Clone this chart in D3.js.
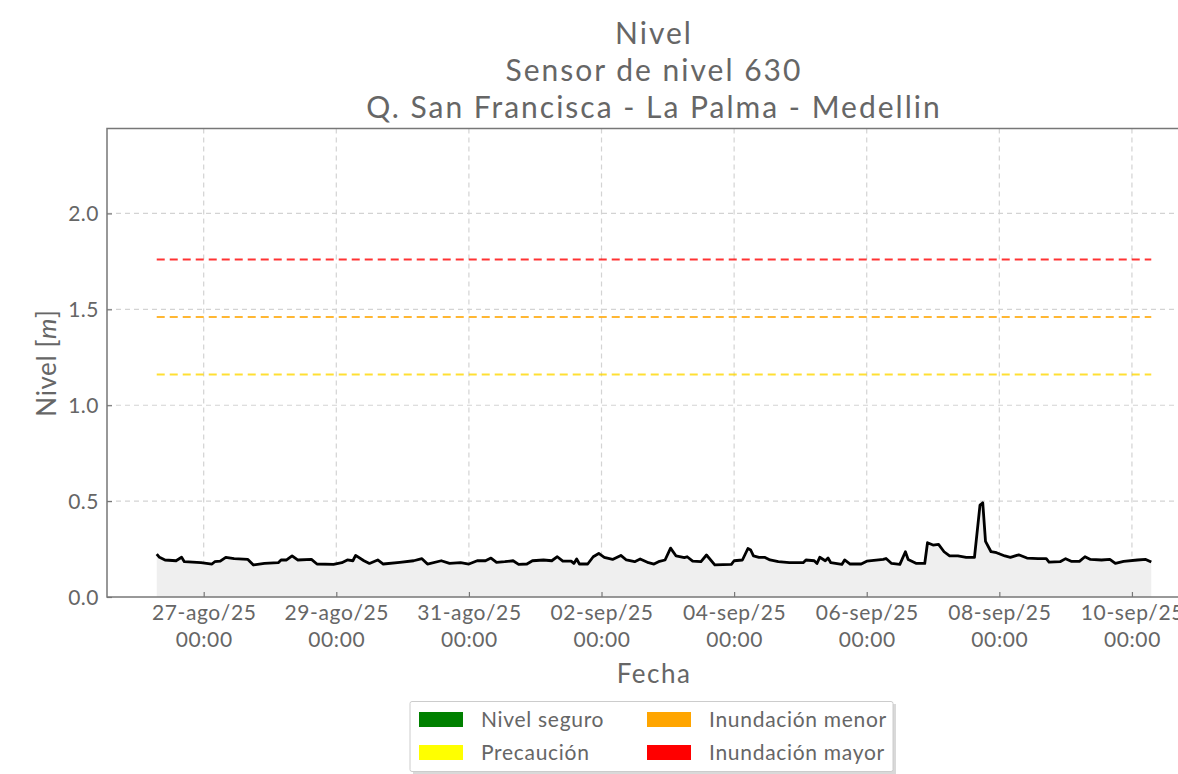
<!DOCTYPE html>
<html><head><meta charset="utf-8">
<script src="https://cdn.jsdelivr.net/npm/d3@7"></script>
<style>
html,body{margin:0;padding:0;background:#fff;overflow:hidden;}
svg text{font-family:Lato,"Open Sans",sans-serif;fill:#666;}
</style></head>
<body><svg id="chart" width="1178" height="774"></svg>
<script>
// ---------- data ----------
const titleLines = ["Nivel", "Sensor de nivel 630", "Q. San Francisca - La Palma - Medellin"];
const xLabel = "Fecha";
const yLabel = "Nivel [";
const yLabelItalic = "m";
const yLabelEnd = "]";

const times = [
"2025-08-26 07:00","2025-08-26 08:00","2025-08-26 10:00","2025-08-26 14:00","2025-08-26 16:00","2025-08-26 17:00","2025-08-26 23:00",
"2025-08-27 03:00","2025-08-27 04:00","2025-08-27 06:00","2025-08-27 08:00","2025-08-27 11:00","2025-08-27 16:00","2025-08-27 18:00","2025-08-27 22:00",
"2025-08-28 03:00","2025-08-28 04:00","2025-08-28 06:00","2025-08-28 08:00","2025-08-28 10:00","2025-08-28 15:00","2025-08-28 17:00","2025-08-28 23:00",
"2025-08-29 02:00","2025-08-29 04:00","2025-08-29 06:00","2025-08-29 07:00","2025-08-29 10:00","2025-08-29 12:00","2025-08-29 15:00","2025-08-29 17:00","2025-08-29 23:00",
"2025-08-30 04:00","2025-08-30 07:00","2025-08-30 09:00","2025-08-30 14:00","2025-08-30 17:00","2025-08-30 21:00",
"2025-08-31 00:00","2025-08-31 03:00","2025-08-31 06:00","2025-08-31 08:00","2025-08-31 10:00","2025-08-31 13:00","2025-08-31 16:00","2025-08-31 18:00","2025-08-31 21:00","2025-08-31 23:00",
"2025-09-01 03:00","2025-09-01 06:00","2025-09-01 08:00","2025-09-01 10:00","2025-09-01 13:00","2025-09-01 14:00","2025-09-01 15:00","2025-09-01 16:00","2025-09-01 19:00","2025-09-01 21:00","2025-09-01 23:00",
"2025-09-02 01:00","2025-09-02 04:00","2025-09-02 07:00","2025-09-02 09:00","2025-09-02 12:00","2025-09-02 14:00","2025-09-02 17:00","2025-09-02 19:00","2025-09-02 21:00","2025-09-02 23:00",
"2025-09-03 01:00","2025-09-03 03:00","2025-09-03 06:00","2025-09-03 07:00","2025-09-03 09:00","2025-09-03 12:00","2025-09-03 14:00","2025-09-03 17:00","2025-09-03 23:00",
"2025-09-04 00:00","2025-09-04 03:00","2025-09-04 05:00","2025-09-04 06:00","2025-09-04 07:00","2025-09-04 09:00","2025-09-04 11:00","2025-09-04 13:00","2025-09-04 16:00","2025-09-04 20:00",
"2025-09-05 01:00","2025-09-05 02:00","2025-09-05 05:00","2025-09-05 06:00","2025-09-05 07:00","2025-09-05 09:00","2025-09-05 10:00","2025-09-05 11:00","2025-09-05 15:00","2025-09-05 16:00","2025-09-05 18:00","2025-09-05 22:00",
"2025-09-06 00:00","2025-09-06 06:00","2025-09-06 07:00","2025-09-06 09:00","2025-09-06 12:00","2025-09-06 14:00","2025-09-06 15:00","2025-09-06 18:00","2025-09-06 21:00","2025-09-06 22:00",
"2025-09-07 00:00","2025-09-07 02:00","2025-09-07 04:00","2025-09-07 06:00","2025-09-07 09:00","2025-09-07 12:00","2025-09-07 15:00","2025-09-07 17:00","2025-09-07 18:00","2025-09-07 19:00","2025-09-07 21:00","2025-09-07 23:00",
"2025-09-08 02:00","2025-09-08 04:00","2025-09-08 07:00","2025-09-08 10:00","2025-09-08 14:00","2025-09-08 17:00","2025-09-08 18:00","2025-09-08 22:00",
"2025-09-09 00:00","2025-09-09 02:00","2025-09-09 05:00","2025-09-09 07:00","2025-09-09 09:00","2025-09-09 13:00","2025-09-09 16:00","2025-09-09 18:00","2025-09-09 21:00",
"2025-09-10 02:00","2025-09-10 05:00","2025-09-10 07:00"
];
const levels = [
0.224,0.207,0.193,0.189,0.207,0.184,0.179,
0.172,0.184,0.187,0.207,0.200,0.196,0.167,0.175,
0.179,0.193,0.193,0.214,0.193,0.196,0.172,0.170,
0.179,0.193,0.189,0.217,0.189,0.175,0.193,0.172,0.181,
0.189,0.200,0.172,0.189,0.175,0.179,
0.172,0.189,0.189,0.203,0.181,0.184,0.189,0.170,0.172,0.189,
0.193,0.189,0.210,0.187,0.187,0.175,0.198,0.172,0.172,0.210,0.227,
0.207,0.196,0.217,0.193,0.184,0.198,0.179,0.172,0.186,0.193,
0.255,0.214,0.205,0.210,0.187,0.184,0.219,0.167,0.170,
0.189,0.193,0.253,0.245,0.214,0.207,0.207,0.193,0.184,0.179,
0.179,0.193,0.189,0.175,0.207,0.189,0.203,0.179,0.170,0.193,0.172,0.172,
0.187,0.196,0.201,0.175,0.170,0.236,0.196,0.175,0.175,0.283,
0.271,0.274,0.236,0.214,0.214,0.207,0.207,0.479,0.491,0.290,0.236,0.231,
0.214,0.207,0.220,0.203,0.200,0.200,0.182,0.184,
0.200,0.186,0.186,0.210,0.196,0.193,0.196,0.175,0.186,
0.193,0.196,0.182
];

const thresholdNames = ["Precaución","Inundación menor","Inundación mayor"];
const thresholdValues = [1.16, 1.46, 1.76];
const thresholdColors = ["#ffd700","#ffa500","#ff0000"];

const legendNames = ["Nivel seguro","Precaución","Inundación menor","Inundación mayor"];
const legendColors = ["#008000","#ffff00","#ffa500","#ff0000"];

const yTicks = [0.0, 0.5, 1.0, 1.5, 2.0];
const yMax = 2.443;
const xTickDates = ["2025-08-27 00:00","2025-08-29 00:00","2025-08-31 00:00","2025-09-02 00:00","2025-09-04 00:00","2025-09-06 00:00","2025-09-08 00:00","2025-09-10 00:00"];
const xTickLabels = ["27-ago/25","29-ago/25","31-ago/25","02-sep/25","04-sep/25","06-sep/25","08-sep/25","10-sep/25"];
const xTickLabels2 = ["00:00","00:00","00:00","00:00","00:00","00:00","00:00","00:00"];

// ---------- chart ----------
const parse = d3.timeParse("%Y-%m-%d %H:%M");
const data = times.map((t,i)=>({t:parse(t), v:levels[i]}));
const svg = d3.select("#chart");
const L = 107, R = 1201, T = 128.5, B = 597;

const ext = d3.extent(data, d=>d.t);
const span = ext[1]-ext[0];
const x = d3.scaleTime()
  .domain([new Date(+ext[0]-span*0.05), new Date(+ext[1]+span*0.05)])
  .range([L, R]);
const y = d3.scaleLinear().domain([0, yMax]).range([B, T]);

const grid = svg.append("g");
grid.selectAll(".hg").data(yTicks.filter(v=>v>0)).join("line")
  .attr("x1",L).attr("x2",R).attr("y1",d=>y(d)).attr("y2",d=>y(d))
  .attr("stroke","#d3d3d3").attr("stroke-width",1.2).attr("stroke-dasharray","5,4");
const xt = xTickDates.map(parse);
grid.selectAll(".vg").data(xt).join("line")
  .attr("x1",d=>x(d)).attr("x2",d=>x(d)).attr("y1",T).attr("y2",B)
  .attr("stroke","#d3d3d3").attr("stroke-width",1.2).attr("stroke-dasharray","5,4");

// area
svg.append("path").datum(data)
  .attr("fill","#efefef")
  .attr("d", d3.area().x(d=>x(d.t)).y0(y(0)).y1(d=>y(d.v)));

// threshold lines
svg.selectAll(".th").data(thresholdValues).join("line")
  .attr("x1",x(ext[0])).attr("x2",x(ext[1]))
  .attr("y1",d=>y(d)).attr("y2",d=>y(d))
  .attr("stroke",(d,i)=>thresholdColors[i]).attr("stroke-opacity",0.8)
  .attr("stroke-width",2).attr("stroke-dasharray","8,5");

// line
svg.append("path").datum(data)
  .attr("fill","none").attr("stroke","#000").attr("stroke-width",2.8)
  .attr("stroke-linejoin","round")
  .attr("d", d3.line().x(d=>x(d.t)).y(d=>y(d.v)));

// axes
const xAxis = d3.axisBottom(x).tickValues(xt).tickSizeInner(-5).tickSizeOuter(0).tickFormat("");
const gx = svg.append("g").attr("transform",`translate(0,${B})`).call(xAxis);
gx.select(".domain").remove();
gx.selectAll(".tick line").attr("stroke","#777").attr("stroke-width",1.2);
gx.selectAll(".tick").each(function(d,i){
  const g = d3.select(this);
  g.append("text").attr("y",23).attr("text-anchor","middle").attr("font-size",21)
    .attr("letter-spacing",0.6).text(xTickLabels[i]);
  g.append("text").attr("y",50).attr("text-anchor","middle").attr("font-size",21)
    .attr("letter-spacing",0.6).text(xTickLabels2[i]);
});
const yAxis = d3.axisLeft(y).tickValues(yTicks).tickSizeInner(-5).tickSizeOuter(0).tickFormat(d3.format(".1f"));
const gy = svg.append("g").attr("transform",`translate(${L},0)`).call(yAxis);
gy.select(".domain").remove();
gy.selectAll(".tick line").attr("stroke","#777").attr("stroke-width",1.2);
gy.selectAll(".tick text").attr("x",-8).attr("font-size",21).attr("dy","0.35em")
  .attr("letter-spacing",0.5).style("font-family","Lato").attr("fill","#666");

// frame
svg.append("rect").attr("x",L).attr("y",T).attr("width",R-L).attr("height",B-T)
  .attr("fill","none").attr("stroke","#777").attr("stroke-width",1.5);

// titles
const cx = (L+R)/2;
svg.selectAll(".title").data(titleLines).join("text")
  .attr("x",cx).attr("y",(d,i)=>44+i*37).attr("text-anchor","middle")
  .attr("font-size",30).attr("letter-spacing",2).text(d=>d);

svg.append("text").attr("x",cx).attr("y",683).attr("text-anchor","middle")
  .attr("font-size",26).attr("letter-spacing",1.5).text(xLabel);
const yl = svg.append("text").attr("transform","translate(56,363) rotate(-90)")
  .attr("text-anchor","middle").attr("font-size",26).attr("letter-spacing",0.6);
yl.append("tspan").text(yLabel);
yl.append("tspan").attr("font-style","italic").text(yLabelItalic);
yl.append("tspan").text(yLabelEnd);

// legend
const lg = svg.append("g");
lg.append("rect").attr("x",413).attr("y",704).attr("width",483).attr("height",71).attr("fill","#d9d9d9");
lg.append("rect").attr("x",410).attr("y",701.5).attr("width",483).attr("height",70).attr("rx",2)
  .attr("fill","#fff").attr("stroke","#cccccc").attr("stroke-width",1);
const colX = [419, 647], rowY = [712, 745];
legendNames.forEach((n,i)=>{
  const c = Math.floor(i/2), r = i%2;
  lg.append("rect").attr("x",colX[c]).attr("y",rowY[r]).attr("width",44).attr("height",15).attr("fill",legendColors[i]);
  lg.append("text").attr("x",colX[c]+62).attr("y",rowY[r]+14.5).attr("font-size",21)
    .attr("letter-spacing",0.7).text(n);
});
</script></body></html>
